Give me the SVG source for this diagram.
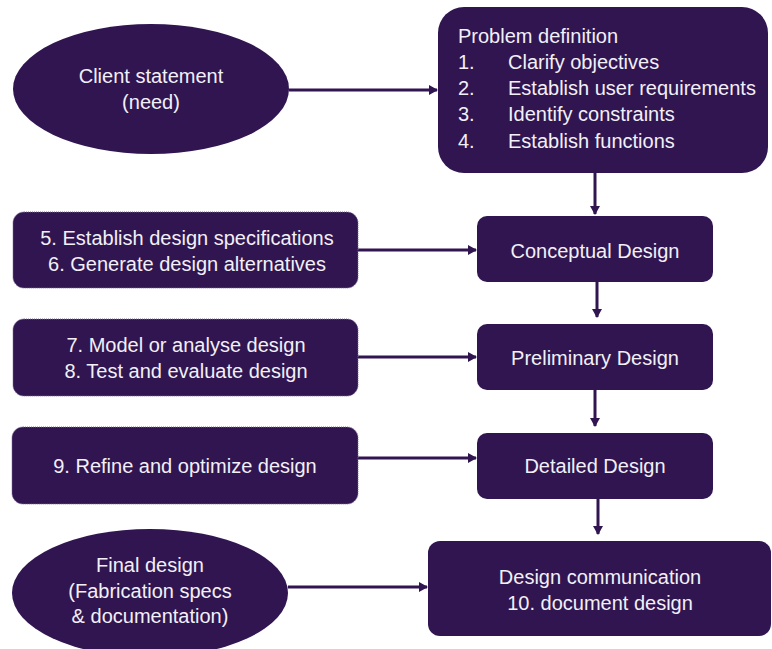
<svg xmlns="http://www.w3.org/2000/svg" width="772" height="649" viewBox="0 0 772 649">
<style>
.n{fill:#301551}
.side{fill:#301551;stroke:#7a6a90;stroke-width:1;stroke-dasharray:1 1}
.t{font-family:"Liberation Sans",Arial,sans-serif;font-size:20px;fill:#f2f0f6}
.c{text-anchor:middle}
.e{stroke:#301551;stroke-width:3;fill:none;marker-end:url(#ah)}
</style>
<defs>
<marker id="ah" markerWidth="10" markerHeight="10" refX="8" refY="5" orient="auto" markerUnits="userSpaceOnUse">
<path d="M0,0 L9,5 L0,10 Z" fill="#301551"/>
</marker>
</defs>
<rect width="772" height="649" fill="#ffffff"/>
<g id="connectors">
<line class="e" x1="289" y1="90" x2="437" y2="90"/>
<line class="e" x1="595" y1="173" x2="595" y2="214"/>
<line class="e" x1="358" y1="250" x2="476" y2="250"/>
<line class="e" x1="597" y1="282" x2="597" y2="317"/>
<line class="e" x1="358" y1="357" x2="476" y2="357"/>
<line class="e" x1="595" y1="390" x2="595" y2="426"/>
<line class="e" x1="358" y1="458" x2="476" y2="458"/>
<line class="e" x1="598" y1="499" x2="598" y2="534"/>
<line class="e" x1="288" y1="587" x2="427" y2="587"/>
</g>
<g id="client">
<ellipse class="n" cx="151" cy="89" rx="138" ry="65"/>
<text class="t c" x="151" y="83">Client statement</text>
<text class="t c" x="151" y="109">(need)</text>
</g>
<g id="problem">
<rect class="n" x="438" y="7" width="330" height="166" rx="26"/>
<text class="t" x="458" y="43">Problem definition</text>
<text class="t" x="458" y="69">1.</text><text class="t" x="508" y="69">Clarify objectives</text>
<text class="t" x="458" y="95">2.</text><text class="t" x="508" y="95">Establish user requirements</text>
<text class="t" x="458" y="121">3.</text><text class="t" x="508" y="121">Identify constraints</text>
<text class="t" x="458" y="148">4.</text><text class="t" x="508" y="148">Establish functions</text>
</g>
<g id="steps56">
<rect class="side" x="13" y="212" width="345" height="76" rx="11"/>
<text class="t c" x="187" y="245">5. Establish design specifications</text>
<text class="t c" x="187" y="271">6. Generate design alternatives</text>
</g>
<g id="conceptual">
<rect class="n" x="477" y="216" width="236" height="66" rx="10"/>
<text class="t c" x="595" y="258">Conceptual Design</text>
</g>
<g id="steps78">
<rect class="side" x="13" y="319" width="345" height="77" rx="11"/>
<text class="t c" x="186" y="352">7. Model or analyse design</text>
<text class="t c" x="186" y="378">8. Test and evaluate design</text>
</g>
<g id="preliminary">
<rect class="n" x="477" y="324" width="236" height="66" rx="10"/>
<text class="t c" x="595" y="365">Preliminary Design</text>
</g>
<g id="step9">
<rect class="side" x="12" y="427" width="346" height="77" rx="11"/>
<text class="t c" x="185" y="473">9. Refine and optimize design</text>
</g>
<g id="detailed">
<rect class="n" x="477" y="433" width="236" height="66" rx="10"/>
<text class="t c" x="595" y="473">Detailed Design</text>
</g>
<g id="final">
<ellipse class="n" cx="150" cy="593" rx="138" ry="64"/>
<text class="t c" x="150" y="572">Final design</text>
<text class="t c" x="150" y="598">(Fabrication specs</text>
<text class="t c" x="150" y="623">&amp; documentation)</text>
</g>
<g id="communication">
<rect class="n" x="428" y="541" width="343" height="95" rx="12"/>
<text class="t c" x="600" y="584">Design communication</text>
<text class="t c" x="600" y="610">10. document design</text>
</g>
</svg>
